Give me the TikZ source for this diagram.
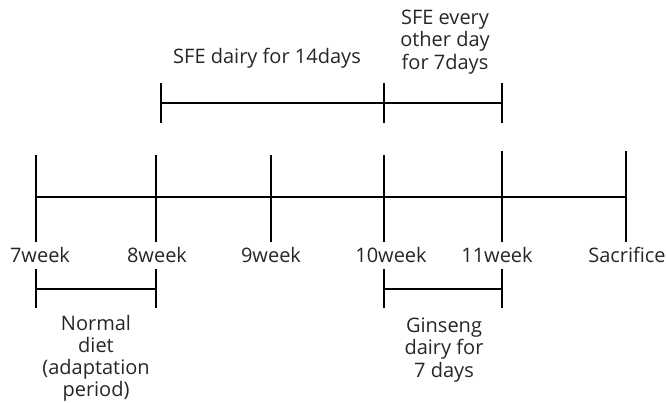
\documentclass[tikz,border=0pt]{standalone}
\usepackage{fontspec}
\setmainfont{Open Sans}
\begin{document}
\begin{tikzpicture}[x=1pt,y=-1pt,
  bar/.style={line width=1.6pt,black},
  lbl/.style={inner sep=0pt,align=center,font=\fontsize{20}{22.5}\selectfont,text=black!85}]
\useasboundingbox (0,0) rectangle (666,403);
% main axis ticks
\coordinate (atop) at (36,155);  \coordinate (abot) at (36,242);  \coordinate (amid) at (36,197);
\coordinate (btop) at (156,155); \coordinate (bbot) at (156,242);
\coordinate (ctop) at (271,155); \coordinate (cbot) at (271,242);
\coordinate (dtop) at (384,155); \coordinate (dbot) at (384,242);
\coordinate (etop) at (502,151); \coordinate (ebot) at (502,242);
\coordinate (ftop) at (626,151); \coordinate (fbot) at (626,242); \coordinate (fmid) at (626,197);
\foreach \n in {a,b,c,d,e,f}{\draw[bar] (\n top) -- (\n bot);}
\draw[bar] (amid) -- (fmid);
% week labels
\node[lbl] (l7) at (40,255) {7week};
\node[lbl] (l8) at (157,255) {8week};
\node[lbl] (l9) at (271,255) {9week};
\node[lbl] (l10) at (391,255) {10week};
\node[lbl] (l11) at (497,255) {11week};
\node[lbl] (ls) at (627,255) {Sacrifice};
% upper bracket
\coordinate (u1) at (161,103);
\coordinate (u2) at (384,103);
\coordinate (u3) at (502,103);
\foreach \c in {u1,u2,u3}{\draw[bar] ([yshift=-20pt]\c) -- ([yshift=20pt]\c);}
\draw[bar] (u1) -- (u3);
\node[lbl] (sfe14) at (267,58) {SFE dairy for 14days};
\node[lbl] (sfe7) at (445,42) {SFE every\\other day\\for 7days};
% lower brackets
\coordinate (n1) at (36,289);
\coordinate (n2) at (156,289);
\coordinate (g1) at (384,289);
\coordinate (g2) at (502,289);
\foreach \c in {n1,n2,g1,g2}{\draw[bar] ([yshift=-19pt]\c) -- ([yshift=20pt]\c);}
\draw[bar] (n1) -- (n2);
\draw[bar] (g1) -- (g2);
\node[lbl,font=\fontsize{20}{22}\selectfont] (nd) at (96,358) {Normal\\diet\\(adaptation\\period)};
\node[lbl] (gs) at (444,350) {Ginseng\\dairy for\\7 days};
\end{tikzpicture}
\end{document}
